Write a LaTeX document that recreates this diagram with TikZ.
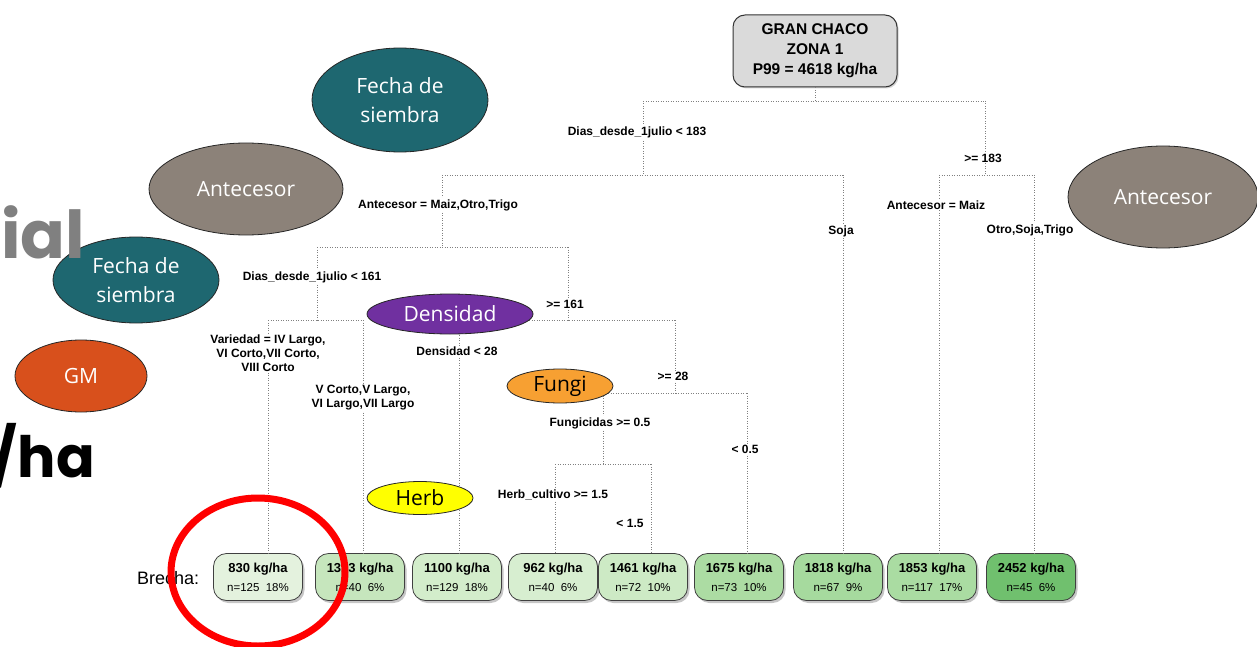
\documentclass[tikz,border=0pt]{standalone}
\usepackage{fontspec}
\setmainfont{Liberation Sans}
\newfontfamily\ovalfont{Open Sans}
\newfontfamily\headfont{Poppins}
\usetikzlibrary{shapes.geometric,shadows}

\definecolor{fechacol}{RGB}{30,103,112}
\definecolor{antecol}{RGB}{140,130,121}
\definecolor{gmcol}{RGB}{216,80,28}
\definecolor{denscol}{RGB}{112,48,160}
\definecolor{fungicol}{RGB}{247,160,50}
\definecolor{herbcol}{RGB}{255,255,0}
\definecolor{rootcol}{RGB}{218,218,218}
\definecolor{g830}{RGB}{228,242,222}
\definecolor{g1313}{RGB}{198,230,189}
\definecolor{g1100}{RGB}{211,237,203}
\definecolor{g962}{RGB}{215,238,208}
\definecolor{g1461}{RGB}{205,234,197}
\definecolor{g1675}{RGB}{172,220,163}
\definecolor{g1818}{RGB}{166,218,158}
\definecolor{g1853}{RGB}{170,220,162}
\definecolor{g2452}{RGB}{112,192,110}
\definecolor{bigtitle}{RGB}{128,128,128}

% two-line leaf content: yield, then count and share
\newcommand\leaftext[2]{{\fontsize{13}{15}\selectfont\bfseries #1}\\{\fontsize{11.5}{14}\selectfont #2}}

\begin{document}
\begin{tikzpicture}[x=1pt, y=-1pt,
  edge/.style={draw=black!50, line width=0.9pt, dash pattern=on 0.9pt off 1.6pt},
  cond/.style={fill=white, inner sep=1pt, align=center, font=\fontsize{12}{14}\selectfont\bfseries},
  leaf/.style={draw=black!75, line width=0.8pt, rounded corners=13pt, minimum width=89pt,
    minimum height=47pt, inner sep=0pt, align=center, font=\fontsize{12}{19}\selectfont,
    drop shadow={shadow xshift=2pt, shadow yshift=-2.5pt, opacity=0.45}},
  oval/.style={ellipse, draw=black!85, line width=0.8pt, inner sep=0pt, align=center,
    text=white, font=\ovalfont\fontsize{21}{29}\selectfont},
]
\useasboundingbox (0,0) rectangle (1257,647);
\clip (0,0) rectangle (1257,647);

% root of the tree
\node[draw=black!80, line width=1pt, fill=rootcol, rounded corners=12pt,
  minimum width=164pt, minimum height=72pt, align=center,
  font=\fontsize{15.5}{20}\selectfont\bfseries,
  drop shadow={shadow xshift=1.5pt, shadow yshift=-1.5pt, opacity=0.35}]
  (root) at (815,51) {GRAN CHACO\\ZONA 1\\P99 = 4618 kg/ha};

% leaves
\node[leaf, fill=g830]  (l830)  at (258,577)  {\leaftext{830 kg/ha}{n=125\ \ 18\%}};
\node[leaf, fill=g1313] (l1313) at (360,577)  {\leaftext{1313 kg/ha}{n=40\ \ 6\%}};
\node[leaf, fill=g1100] (l1100) at (457,577)  {\leaftext{1100 kg/ha}{n=129\ \ 18\%}};
\node[leaf, fill=g962]  (l962)  at (553,577)  {\leaftext{962 kg/ha}{n=40\ \ 6\%}};
\node[leaf, fill=g1461] (l1461) at (643,577)  {\leaftext{1461 kg/ha}{n=72\ \ 10\%}};
\node[leaf, fill=g1675] (l1675) at (739,577)  {\leaftext{1675 kg/ha}{n=73\ \ 10\%}};
\node[leaf, fill=g1818] (l1818) at (838,577)  {\leaftext{1818 kg/ha}{n=67\ \ 9\%}};
\node[leaf, fill=g1853] (l1853) at (932,577)  {\leaftext{1853 kg/ha}{n=117\ \ 17\%}};
\node[leaf, fill=g2452] (l2452) at (1031,577) {\leaftext{2452 kg/ha}{n=45\ \ 6\%}};

\node[anchor=base west, inner sep=0pt, font=\fontsize{18}{20}\selectfont] (brecha) at (137,584) {Brecha:};

% split bars
\coordinate (r0)  at (815,101);
\coordinate (a1)  at (643,101);  \coordinate (a2)  at (985,101);
\coordinate (b1)  at (643,175);
\coordinate (b1l) at (442,175);  \coordinate (b1r) at (843,175);
\coordinate (b2)  at (985,175);
\coordinate (b2l) at (939,175);  \coordinate (b2r) at (1034,175);
\coordinate (c1l) at (317,247);  \coordinate (c1r) at (568,247);
\coordinate (d1l) at (268,320);  \coordinate (d1r) at (363,320);
\coordinate (d2l) at (459,320);  \coordinate (d2r) at (675,320);
\coordinate (e1l) at (603,393);  \coordinate (e1r) at (747,393);
\coordinate (f1l) at (555,464);  \coordinate (f1r) at (651,464);

\draw[edge] (root.south) -- (r0);
\draw[edge] (a1) -- (a2);
\draw[edge] (a1) -- (b1);
\draw[edge] (a2) -- (b2);
\draw[edge] (b1l) -- (b1r);
\draw[edge] (b2l) -- (b2r);
\draw[edge] (b1r) -- (b1r |- l1818.north);
\draw[edge] (b2l) -- (b2l |- l1853.north);
\draw[edge] (b2r) -- (b2r |- l2452.north);
\draw[edge] (b1l) -- (b1l |- c1l);
\draw[edge] (c1l) -- (c1r);
\draw[edge] (c1l) -- (c1l |- d1l);
\draw[edge] (d1l) -- (d1r);
\draw[edge] (d1l) -- (d1l |- l830.north);
\draw[edge] (d1r) -- (d1r |- l1313.north);
\draw[edge] (c1r) -- (c1r |- d2l);
\draw[edge] (d2l) -- (d2r);
\draw[edge] (d2l) -- (d2l |- l1100.north);
\draw[edge] (d2r) -- (d2r |- e1l);
\draw[edge] (e1l) -- (e1r);
\draw[edge] (e1r) -- (e1r |- l1675.north);
\draw[edge] (e1l) -- (e1l |- f1l);
\draw[edge] (f1l) -- (f1r);
\draw[edge] (f1l) -- (f1l |- l962.north);
\draw[edge] (f1r) -- (f1r |- l1461.north);

% split conditions
\node[cond] (s1)  at (637,132) {Dias\_desde\_1julio < 183};
\node[cond] (s2)  at (983,158) {>= 183};
\node[cond] (s3)  at (438,205) {Antecesor = Maiz,Otro,Trigo};
\node[cond] (s4)  at (841,231) {Soja};
\node[cond] (s5)  at (936,205) {Antecesor = Maiz};
\node[cond] (s6)  at (1030,230) {Otro,Soja,Trigo};
\node[cond] (s7)  at (312,277) {Dias\_desde\_1julio < 161};
\node[cond] (s8)  at (565,304) {>= 161};
\node[cond] (s9)  at (268,353) {Variedad = IV Largo,\\VI Corto,VII Corto,\\VIII Corto};
\node[cond] (s10) at (363,398) {V Corto,V Largo,\\VI Largo,VII Largo};
\node[cond] (s11) at (457,351) {Densidad < 28};
\node[cond] (s12) at (673,376) {>= 28};
\node[cond] (s13) at (600,423) {Fungicidas >= 0.5};
\node[cond] (s14) at (745,449) {< 0.5};
\node[cond] (s15) at (553,495) {Herb\_cultivo >= 1.5};
\node[cond, fill=none] (s16) at (630,523) {< 1.5};

% variable tags
\node[oval, fill=fechacol, minimum width=176pt, minimum height=104pt] (o1) at (400,100) {Fecha de\\siembra};
\node[oval, fill=antecol, minimum width=194pt, minimum height=92pt] (o2) at (246,189) {Antecesor};
\node[oval, fill=fechacol, minimum width=166pt, minimum height=86pt] (o3) at (136,280) {Fecha de\\siembra};
\node[oval, fill=gmcol, minimum width=132pt, minimum height=72pt] (o4) at (81,376) {GM};
\node[oval, fill=antecol, minimum width=190pt, minimum height=102pt] (o5) at (1163,197) {Antecesor};
\node[oval, fill=denscol, minimum width=166pt, minimum height=40pt] (o6) at (450,314) {Densidad};
\node[oval, fill=fungicol, text=black, minimum width=106pt, minimum height=34pt] (o7) at (560,386) {Fungi};
\node[oval, fill=herbcol, text=black, minimum width=106pt, minimum height=33pt] (o8) at (420,498) {Herb};

% large heading fragments at the left margin
\node[anchor=base east, inner sep=0pt, text=bigtitle, font=\headfont\bfseries\fontsize{66}{66}\selectfont] (tword) at (85,258) {ial};
\node[anchor=base east, inner sep=0pt, font=\headfont\bfseries\fontsize{57}{57}\selectfont] (uword) at (95,477) {/ha};

% highlight ring
\node[ellipse, draw=red, line width=7pt, minimum width=174pt, minimum height=148pt] (ring) at (258,572) {};
\end{tikzpicture}
\end{document}
